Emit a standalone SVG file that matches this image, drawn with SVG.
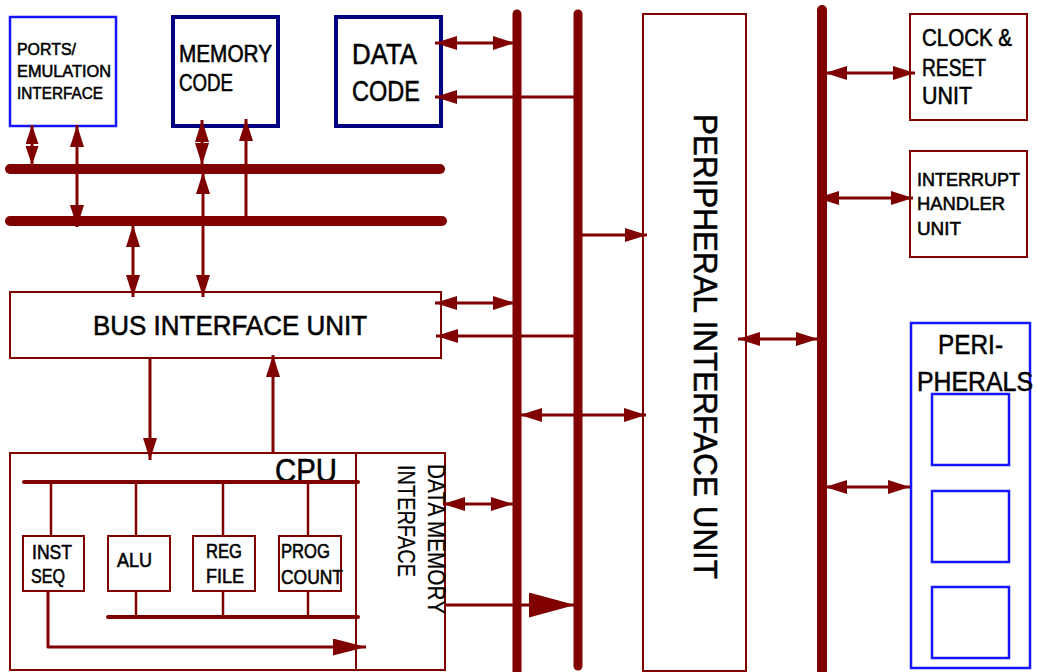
<svg xmlns="http://www.w3.org/2000/svg" width="1037" height="672" viewBox="0 0 1037 672">
<style>
.t{font-family:"Liberation Sans",Arial,sans-serif;fill:#000;stroke:#000;stroke-width:0.55}
.tl{stroke-width:0.2}
.box{fill:#fff;stroke:#800000;stroke-width:2}
.nv{fill:#fff;stroke:#000080;stroke-width:4}
.bl{fill:#fff;stroke:#1414ff;stroke-width:2.5}
.bus{stroke:#800000;stroke-linecap:round;fill:none}
.c{stroke:#800000;stroke-width:3;fill:none}
.d{marker-start:url(#ah);marker-end:url(#ah)}
.e{marker-end:url(#ah)}
</style>
<defs>
<marker id="ah" markerUnits="userSpaceOnUse" markerWidth="22" markerHeight="14" refX="22" refY="7" orient="auto-start-reverse" viewBox="0 0 22 14"><path d="M0,0 L22,7 L0,14 Z" fill="#800000"/></marker>
<marker id="as" markerUnits="userSpaceOnUse" markerWidth="19" markerHeight="13" refX="19" refY="6.5" orient="auto-start-reverse" viewBox="0 0 19 13"><path d="M0,0 L19,6.5 L0,13 Z" fill="#800000"/></marker>
<marker id="ab" markerUnits="userSpaceOnUse" markerWidth="46" markerHeight="25" refX="46" refY="12.5" orient="auto" viewBox="0 0 46 25"><path d="M0,0 L46,12.5 L0,25 Z" fill="#800000"/></marker>
<marker id="am" markerUnits="userSpaceOnUse" markerWidth="33" markerHeight="17" refX="33" refY="8.5" orient="auto" viewBox="0 0 33 17"><path d="M0,0 L33,8.5 L0,17 Z" fill="#800000"/></marker>
</defs>
<rect width="1037" height="672" fill="#fff"/>

<g id="ports">
<rect class="bl" x="10" y="17" width="106" height="109"/>
<text class="t" font-size="17" x="17" y="55" textLength="59" lengthAdjust="spacingAndGlyphs">PORTS/</text>
<text class="t" font-size="17" x="17" y="77" textLength="94" lengthAdjust="spacingAndGlyphs">EMULATION</text>
<text class="t" font-size="17" x="17" y="99" textLength="86" lengthAdjust="spacingAndGlyphs">INTERFACE</text>
</g>
<g id="memory-code">
<rect class="nv" x="173" y="17" width="105" height="109"/>
<text class="t" font-size="23" x="179" y="62" textLength="93" lengthAdjust="spacingAndGlyphs">MEMORY</text>
<text class="t" font-size="23" x="179" y="91" textLength="54" lengthAdjust="spacingAndGlyphs">CODE</text>
</g>
<g id="data-code">
<rect class="nv" x="336" y="17" width="105" height="109"/>
<text class="t" font-size="29" x="352" y="64" textLength="65" lengthAdjust="spacingAndGlyphs">DATA</text>
<text class="t" font-size="29" x="352" y="101" textLength="68" lengthAdjust="spacingAndGlyphs">CODE</text>
</g>
<g id="bus-interface-unit">
<rect class="box" x="10" y="292" width="431" height="66"/>
<text class="t" font-size="27" x="93" y="335" textLength="274" lengthAdjust="spacingAndGlyphs">BUS INTERFACE UNIT</text>
</g>
<g id="cpu">
<rect class="box" x="10" y="453" width="435" height="217"/>
<line x1="356" y1="453" x2="356" y2="670" stroke="#800000" stroke-width="2"/>
<text class="t" font-size="33" x="275" y="482" textLength="62" lengthAdjust="spacingAndGlyphs">CPU</text>
<line class="bus" x1="24" y1="482" x2="358" y2="482" stroke-width="4"/>
<line class="bus" x1="108" y1="617" x2="358" y2="617" stroke-width="4"/>
<g stroke="#800000" stroke-width="2.5">
<line x1="51" y1="482" x2="51" y2="536"/>
<line x1="136" y1="482" x2="136" y2="536"/>
<line x1="223" y1="482" x2="223" y2="536"/>
<line x1="308" y1="482" x2="308" y2="536"/>
<line x1="136" y1="591" x2="136" y2="617"/>
<line x1="223" y1="591" x2="223" y2="617"/>
<line x1="308" y1="591" x2="308" y2="617"/>
</g>
</g>
<g id="inst-seq">
<rect class="box" x="23" y="536" width="61" height="55"/>
<text class="t" font-size="19.5" x="32" y="559" textLength="40" lengthAdjust="spacingAndGlyphs">INST</text>
<text class="t" font-size="19.5" x="31" y="583" textLength="34" lengthAdjust="spacingAndGlyphs">SEQ</text>
</g>
<g id="alu">
<rect class="box" x="108" y="536" width="62" height="55"/>
<text class="t" font-size="19.5" x="117" y="567" textLength="35" lengthAdjust="spacingAndGlyphs">ALU</text>
</g>
<g id="reg-file">
<rect class="box" x="193" y="536" width="62" height="55"/>
<text class="t" font-size="19.5" x="206" y="558" textLength="36" lengthAdjust="spacingAndGlyphs">REG</text>
<text class="t" font-size="19.5" x="206" y="583" textLength="38" lengthAdjust="spacingAndGlyphs">FILE</text>
</g>
<g id="prog-count">
<rect class="box" x="279" y="536" width="62" height="55"/>
<text class="t" font-size="19.5" x="281" y="558" textLength="49" lengthAdjust="spacingAndGlyphs">PROG</text>
<text class="t" font-size="19.5" x="281" y="584" textLength="62" lengthAdjust="spacingAndGlyphs">COUNT</text>
</g>
<g id="data-memory-interface">
<text class="t tl" font-size="23" transform="translate(428,464) rotate(90)" textLength="150" lengthAdjust="spacingAndGlyphs">DATA MEMORY</text>
<text class="t tl" font-size="23" transform="translate(398,465) rotate(90)" textLength="112" lengthAdjust="spacingAndGlyphs">INTERFACE</text>
</g>
<g id="peripheral-interface-unit">
<rect class="box" x="643" y="14" width="103" height="657"/>
<text class="t" font-size="34" transform="translate(694,114) rotate(90)" textLength="465" lengthAdjust="spacingAndGlyphs">PERIPHERAL INTERFACE UNIT</text>
</g>
<g id="clock-reset-unit">
<rect class="box" x="910" y="14" width="117" height="106"/>
<text class="t" font-size="23" x="922" y="46" textLength="90" lengthAdjust="spacingAndGlyphs">CLOCK &amp;</text>
<text class="t" font-size="23" x="922" y="76" textLength="64" lengthAdjust="spacingAndGlyphs">RESET</text>
<text class="t" font-size="23" x="922" y="104" textLength="50" lengthAdjust="spacingAndGlyphs">UNIT</text>
</g>
<g id="interrupt-handler-unit">
<rect class="box" x="910" y="151" width="117" height="106"/>
<text class="t" font-size="19" x="917" y="186" textLength="103" lengthAdjust="spacingAndGlyphs">INTERRUPT</text>
<text class="t" font-size="19" x="917" y="210" textLength="88" lengthAdjust="spacingAndGlyphs">HANDLER</text>
<text class="t" font-size="19" x="917" y="235" textLength="44" lengthAdjust="spacingAndGlyphs">UNIT</text>
</g>
<g id="peripherals">
<rect class="bl" x="911" y="323" width="119" height="345"/>
<text class="t" font-size="28" x="938" y="354" textLength="65" lengthAdjust="spacingAndGlyphs">PERI-</text>
<text class="t" font-size="28" x="917" y="391" textLength="116" lengthAdjust="spacingAndGlyphs">PHERALS</text>
<rect class="bl" x="932" y="394" width="77" height="71"/>
<rect class="bl" x="932" y="491" width="77" height="71"/>
<rect class="bl" x="932" y="587" width="77" height="71"/>
</g>

<g id="buses">
<line class="bus" x1="10" y1="169" x2="440" y2="169" stroke-width="10"/>
<line class="bus" x1="10" y1="221" x2="442" y2="221" stroke-width="10"/>
<line class="bus" x1="517" y1="14" x2="517" y2="680" stroke-width="9"/>
<line class="bus" x1="578" y1="14" x2="578" y2="666" stroke-width="9"/>
<line class="bus" x1="822" y1="10" x2="822" y2="680" stroke-width="10"/>
</g>

<g id="connectors">
<line class="c" x1="32" y1="125" x2="32" y2="165" marker-start="url(#as)" marker-end="url(#as)"/>
<line class="c d" x1="77" y1="125" x2="77" y2="227"/>
<line class="c d" x1="133" y1="225" x2="133" y2="297"/>
<line class="c d" x1="202" y1="120" x2="202" y2="165"/>
<line class="c d" x1="203" y1="172" x2="203" y2="297"/>
<line class="c e" x1="246" y1="221" x2="246" y2="119"/>
<line class="c d" x1="435" y1="43" x2="515" y2="43"/>
<line class="c e" x1="578" y1="97" x2="435" y2="97"/>
<line class="c d" x1="435" y1="303" x2="515" y2="303"/>
<line class="c e" x1="578" y1="336" x2="436" y2="336"/>
<line class="c e" x1="578" y1="235" x2="647" y2="235"/>
<line class="c d" x1="520" y1="415" x2="646" y2="415"/>
<line class="c d" x1="738" y1="339" x2="818" y2="339"/>
<line class="c d" x1="825" y1="73" x2="915" y2="73"/>
<line class="c d" x1="817" y1="198" x2="913" y2="198"/>
<line class="c d" x1="825" y1="487" x2="910" y2="487"/>
<line class="c e" x1="150" y1="359" x2="150" y2="460"/>
<line class="c e" x1="273" y1="453" x2="273" y2="355"/>
<line class="c d" x1="443" y1="504" x2="513" y2="504"/>
<line class="c" x1="444" y1="605" x2="575" y2="605" marker-end="url(#ab)"/>
<polyline class="c" points="48,591 48,647 366,647" stroke-width="5" stroke-linejoin="round" marker-end="url(#am)"/>
</g>
</svg>
